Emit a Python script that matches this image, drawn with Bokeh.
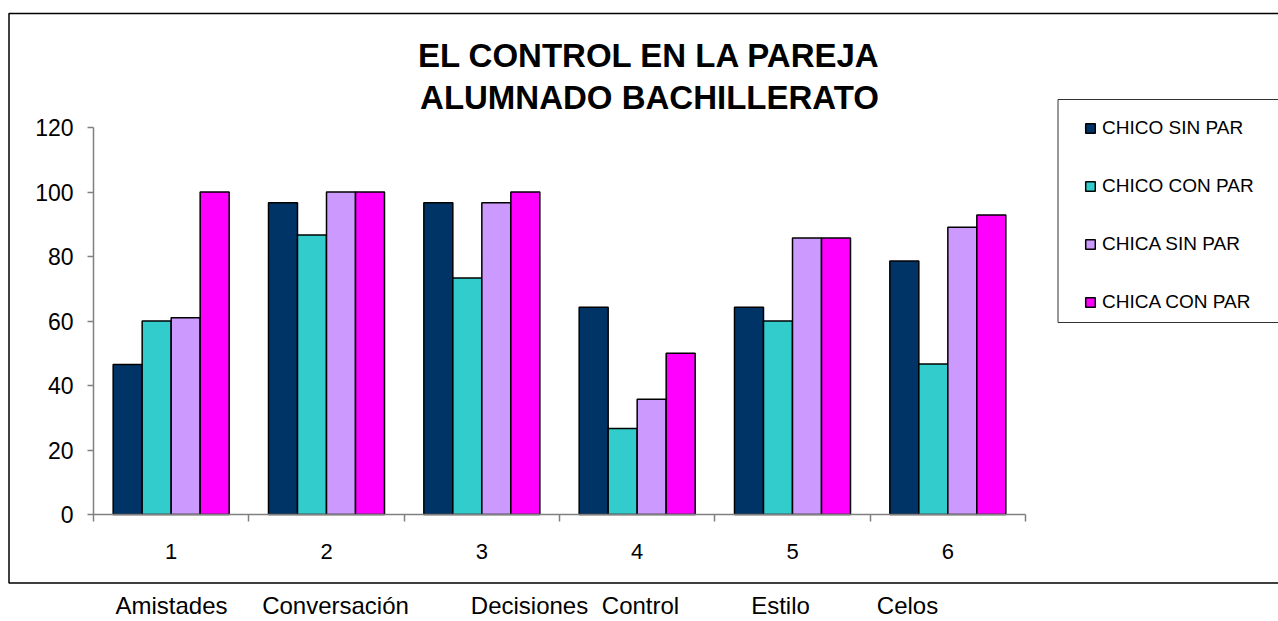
from bokeh.plotting import figure
from bokeh.models import (Legend, LegendItem, Label, BoxAnnotation, FixedTicker,
                          Range1d)
from bokeh.embed import file_html
from bokeh.resources import INLINE

# ---------------- data ----------------
groups = [1, 2, 3, 4, 5, 6]
tick_labels = ["1", "2", "3", "4", "5", "6"]
series_names = ["CHICO SIN PAR", "CHICO CON PAR", "CHICA SIN PAR", "CHICA CON PAR"]
chico_sin_par = [46.5, 96.7, 96.7, 64.3, 64.3, 78.6]
chico_con_par = [60.0, 86.7, 73.3, 26.7, 60.0, 46.7]
chica_sin_par = [61.0, 100.0, 96.7, 35.7, 85.7, 89.1]
chica_con_par = [100.0, 100.0, 100.0, 50.0, 85.7, 92.9]
bottom_labels = ["Amistades", "Conversación", "Decisiones", "Control", "Estilo", "Celos"]
title_lines = ["EL CONTROL EN LA PAREJA", "ALUMNADO BACHILLERATO"]
y_ticks = [0, 20, 40, 60, 80, 100, 120]

# ---------------- style / layout ----------------
W, H = 1278, 621
colors = ["#003366", "#33CCCC", "#CC99FF", "#FF00FF"]
bar_w = 0.1867
offsets = [-1.5 * bar_w, -0.5 * bar_w, 0.5 * bar_w, 1.5 * bar_w]
bottom_label_px = [171, 335, 529, 640, 780, 907]  # page x centres

# pixel geometry of the plotting area (page coords)
PX_L, PX_R, PX_T, PX_B = 93, 1025, 127, 514
ux = (PX_R - PX_L) / 6.0
uy = (PX_B - PX_T) / 120.0
x_range = Range1d(0.5 - PX_L / ux, 6.5 + (W - PX_R) / ux)
y_range = Range1d(-(H - PX_B) / uy, 120 + PX_T / uy)

p = figure(width=W, height=H, output_backend="svg", toolbar_location=None,
           x_range=x_range, y_range=y_range,
           min_border=0, min_border_left=0, min_border_right=0,
           min_border_top=0, min_border_bottom=0)
p.outline_line_color = None
p.xgrid.visible = False
p.ygrid.visible = False
p.background_fill_color = "white"
p.border_fill_color = "white"

series = [chico_sin_par, chico_con_par, chica_sin_par, chica_con_par]
renderers = []
for vals, off, col in zip(series, offsets, colors):
    r = p.vbar(x=[g + off for g in groups], top=vals, bottom=0, width=bar_w,
               fill_color=col, line_color="black", line_width=1.5)
    renderers.append(r)

# axes (drawn at fixed data locations inside the frame)
xa = p.xaxis[0]
xa.fixed_location = 0
xa.bounds = (0.5, 6.5)
xa.ticker = FixedTicker(ticks=groups, minor_ticks=[g - 0.5 for g in groups] + [6.5])
xa.major_label_overrides = {g: t for g, t in zip(groups, tick_labels)}
xa.major_tick_line_color = None
xa.major_tick_out = 0
xa.major_tick_in = 0
xa.minor_tick_out = 7
xa.minor_tick_in = 0
xa.minor_tick_line_color = "#808080"
xa.minor_tick_line_width = 1.5
xa.axis_line_color = "#808080"
xa.axis_line_width = 1.5
xa.major_label_text_font = "Liberation Sans"
xa.major_label_text_font_size = "22px"
xa.major_label_text_color = "black"
xa.major_label_standoff = 22

ya = p.yaxis[0]
ya.fixed_location = 0.5
ya.bounds = (0, 120)
ya.ticker = FixedTicker(ticks=y_ticks)
ya.minor_tick_line_color = None
ya.major_tick_out = 6
ya.major_tick_in = 0
ya.major_tick_line_color = "#808080"
ya.major_tick_line_width = 1.5
ya.axis_line_color = "#808080"
ya.axis_line_width = 1.5
ya.major_label_text_font = "Liberation Sans"
ya.major_label_text_font_size = "23px"
ya.major_label_text_color = "black"
ya.major_label_standoff = 14

# outer chart border (screen units: from frame bottom-left, y up)
p.add_layout(BoxAnnotation(left=8.5, right=1400, top=H - 13, bottom=H - 582.5,
                           left_units="screen", right_units="screen",
                           top_units="screen", bottom_units="screen",
                           fill_color=None, fill_alpha=0, line_color="black",
                           line_alpha=1.0, line_width=1.5))
# legend border
p.add_layout(BoxAnnotation(left=1057.5, right=1400, top=H - 99, bottom=H - 322,
                           left_units="screen", right_units="screen",
                           top_units="screen", bottom_units="screen",
                           fill_color=None, fill_alpha=0, line_color="#333333",
                           line_alpha=1.0, line_width=1))

legend = Legend(items=[LegendItem(label=n, renderers=[r]) for n, r in zip(series_names, renderers)],
                location=(1084, H - 313),
                border_line_color=None, background_fill_alpha=0,
                padding=15, spacing=36, margin=0,
                label_height=22, glyph_height=12, glyph_width=12, label_standoff=6,
                label_text_font="Liberation Sans", label_text_font_size="19px",
                label_text_color="black")
p.add_layout(legend)

# title
for txt, py in zip(title_lines, [55, 97]):
    p.add_layout(Label(x=649, y=H - py, x_units="screen", y_units="screen",
                       text=txt, text_align="center", text_baseline="middle",
                       text_font="Liberation Sans", text_font_style="bold",
                       text_font_size="33px", text_color="black"))

# bottom category names
for txt, px in zip(bottom_labels, bottom_label_px):
    p.add_layout(Label(x=px, y=H - 605, x_units="screen", y_units="screen",
                       text=txt, text_align="center", text_baseline="middle",
                       text_font="Liberation Sans", text_font_size="24px",
                       text_color="black"))

open("out.html", "w").write(file_html(p, INLINE))
